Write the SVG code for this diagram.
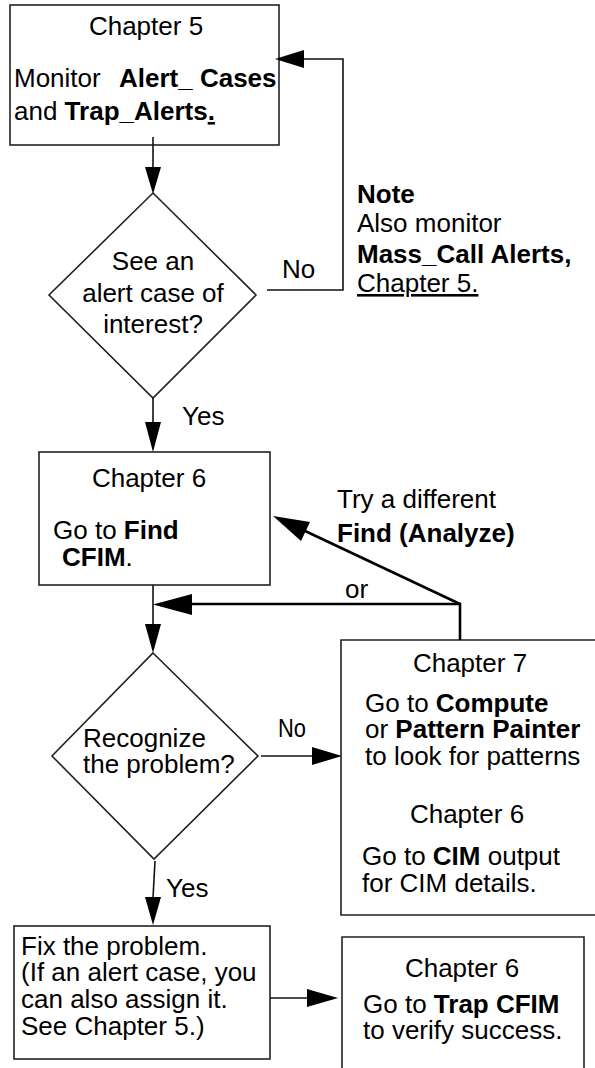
<svg xmlns="http://www.w3.org/2000/svg" width="595" height="1068" viewBox="0 0 595 1068">
<style>
text{font-family:"Liberation Sans",Arial,Helvetica,sans-serif;font-size:26px;fill:#000}
.b{font-weight:bold}
.c{text-anchor:middle}
.u{text-decoration:underline}
.box{fill:#fff;stroke:#222;stroke-width:1.6}
.ln{fill:none;stroke:#111;stroke-width:1.6}
.lt{fill:none;stroke:#000;stroke-width:2.6}
.ah{fill:#000;stroke:none}
</style>
<rect width="595" height="1068" fill="#fff"/>

<g id="box-ch5">
<rect class="box" x="10" y="5" width="269" height="140"/>
<text class="c" x="146" y="35">Chapter 5</text>
<text x="14" y="87">Monitor<tspan class="b" x="119">Alert_ Cases</tspan></text>
<text x="14" y="120">and <tspan class="b">Trap_Alerts</tspan><tspan class="b u">.</tspan></text>
</g>

<g id="note">
<text class="b" x="357" y="203">Note</text>
<text x="357" y="232">Also monitor</text>
<text class="b" x="357" y="263">Mass_Call Alerts,</text>
<text class="u" x="357" y="292">Chapter 5.</text>
</g>

<g id="dec-alert">
<polygon class="box" points="153,193 256,295 153,398 49,295"/>
<text class="c" x="153" y="270">See an</text>
<text class="c" x="153" y="302">alert case of</text>
<text class="c" x="153" y="333">interest?</text>
</g>

<g id="box-find">
<rect class="box" x="39" y="452" width="231" height="133"/>
<text class="c" x="149" y="487">Chapter 6</text>
<text x="53" y="539">Go to <tspan class="b">Find</tspan></text>
<text x="62" y="566"><tspan class="b">CFIM</tspan>.</text>
</g>

<g id="dec-recognize">
<polygon class="box" points="153,653 258,756 154,859 52,756"/>
<text x="83" y="747">Recognize</text>
<text x="83" y="773">the problem?</text>
</g>

<g id="box-ch7">
<path class="box" d="M600,640 H341 V915 H600"/>
<text class="c" x="470" y="672">Chapter 7</text>
<text x="365" y="712">Go to <tspan class="b">Compute</tspan></text>
<text x="365" y="738">or <tspan class="b">Pattern Painter</tspan></text>
<text x="365" y="765">to look for patterns</text>
<text class="c" x="467" y="823">Chapter 6</text>
<text x="362" y="865">Go to <tspan class="b">CIM</tspan> output</text>
<text x="362" y="892">for CIM details.</text>
</g>

<g id="box-fix">
<rect class="box" x="14" y="926" width="256" height="133"/>
<text x="21" y="955">Fix the problem.</text>
<text x="21" y="981">(If an alert case, you</text>
<text x="21" y="1008">can also assign it.</text>
<text x="21" y="1035">See Chapter 5.)</text>
</g>

<g id="box-trap">
<path class="box" d="M342,1075 V937 H584 V1075"/>
<text class="c" x="462" y="977">Chapter 6</text>
<text x="363" y="1013">Go to <tspan class="b">Trap CFIM</tspan></text>
<text x="363" y="1039">to verify success.</text>
</g>

<g id="connectors">
<line class="ln" x1="153" y1="137" x2="153" y2="168"/>
<polygon class="ah" points="145,167 161,167 153,194"/>

<polyline class="ln" points="267,290 343,290 343,59 303,59"/>
<polygon class="ah" points="304,50 304,68 275,59"/>
<text x="282" y="278">No</text>

<line class="ln" x1="153" y1="398" x2="153" y2="423"/>
<polygon class="ah" points="145,422 161,422 153,452"/>
<text x="182" y="425">Yes</text>

<line class="ln" x1="153" y1="585" x2="153" y2="625"/>
<polygon class="ah" points="145,624 161,624 153,653"/>

<polyline class="lt" points="460,640 460,604 192,604"/>
<polygon class="ah" points="192,594 192,615 153,604.5"/>
<text x="345" y="598">or</text>

<line class="lt" x1="460" y1="604" x2="303" y2="530"/>
<polygon class="ah" points="273,516 310,522 301,541"/>
<text x="337" y="508">Try a different</text>
<text class="b" x="337" y="542">Find (Analyze)</text>

<line class="ln" x1="261" y1="756" x2="313" y2="756"/>
<polygon class="ah" points="312,747 312,765 342,756"/>
<text x="278" y="737" textLength="28" lengthAdjust="spacingAndGlyphs">No</text>

<line class="ln" x1="155" y1="861" x2="153" y2="898"/>
<polygon class="ah" points="145,897 161,897 153,925"/>
<text x="166" y="897">Yes</text>

<line class="ln" x1="270" y1="998" x2="308" y2="998"/>
<polygon class="ah" points="307,989 307,1007 338,998"/>
</g>
</svg>
